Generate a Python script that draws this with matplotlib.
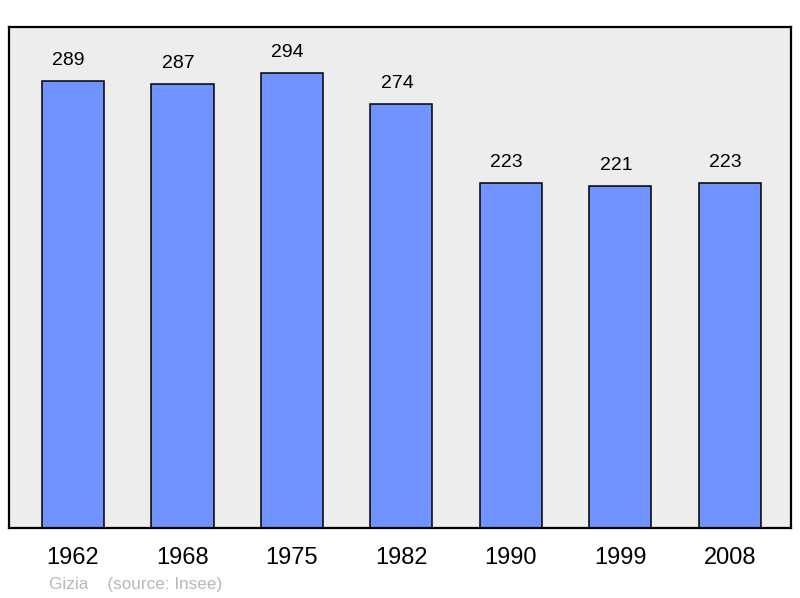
import matplotlib
matplotlib.use('Agg')
import matplotlib.pyplot as plt

plt.rcParams['font.family'] = ['Liberation Sans', 'DejaVu Sans']

years = ['1962', '1968', '1975', '1982', '1990', '1999', '2008']
population = [289, 287, 294, 274, 223, 221, 223]

fig = plt.figure(figsize=(8, 5.98), dpi=100)
ax = fig.add_axes([9 / 800, 70 / 598, 782 / 800, 501 / 598])
ax.set_facecolor('#ededed')

x = range(len(years))
ax.bar(x, population, width=0.567, color='#7093ff', edgecolor='black',
       linewidth=1.1, zorder=2)
for xi, v in zip(x, population):
    ax.text(xi - 0.04, v + 13.5, str(v), ha='center', va='center', fontsize=14)

ax.set_xlim(-0.585, 6.56)
ax.set_ylim(0, 324)
ax.set_yticks([])
ax.set_xticks(list(x))
ax.set_xticklabels(years, fontsize=17)
ax.tick_params(axis='x', length=0, pad=14)
for s in ax.spines.values():
    s.set_linewidth(1.6)

fig.text(49 / 800, 1 - 584 / 598, 'Gizia    (source: Insee)', ha='left',
         va='center', fontsize=12.3, color='#b8b8b8')

fig.savefig('out.png', dpi=100, facecolor='white')
